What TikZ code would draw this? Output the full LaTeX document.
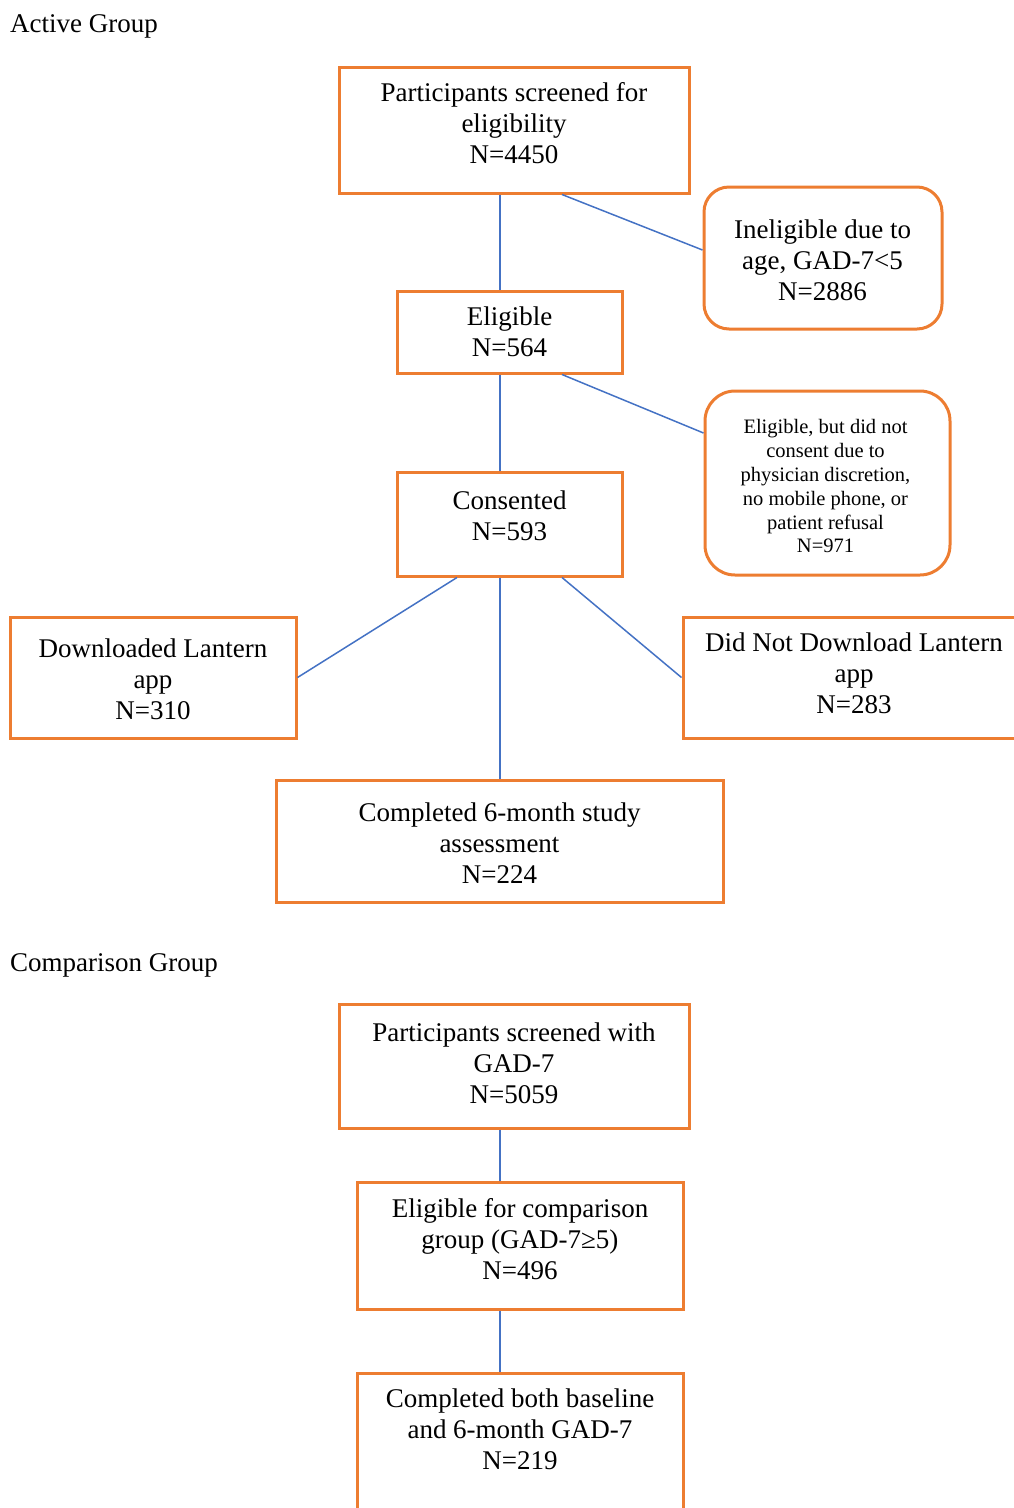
\documentclass[tikz,border=0pt]{standalone}
\usepackage{fontspec}
\setmainfont{Liberation Serif}
\definecolor{boxorange}{HTML}{ED7D31}
\definecolor{linkblue}{HTML}{4472C4}
\begin{document}
\begin{tikzpicture}[x=1pt,y=-1pt,
  frame/.style={draw=boxorange, line width=3pt, inner sep=0pt, rectangle},
  rframe/.style={frame, rounded corners=#1},
  lbl/.style={align=center, inner sep=0pt, font=\fontsize{27}{31}\selectfont},
  smalllbl/.style={align=center, inner sep=0pt, font=\fontsize{20.5}{23.8}\selectfont},
  grouptitle/.style={anchor=base west, inner sep=0pt, font=\fontsize{27}{31}\selectfont},
  link/.style={draw=linkblue, line width=1.5pt}]
\useasboundingbox (0,0) rectangle (1014,1508);
\clip (0,0) rectangle (1014,1508);

% titles
\node[grouptitle] (t1) at (10,32.5) {Active Group};
\node[grouptitle] (t2) at (10,971) {Comparison Group};

% boxes (active group)
\node[frame, minimum width=350, minimum height=126] (p1) at (514,130) {};
\node[lbl] (p1t) at (514,123.5) {Participants screened for\\eligibility\\N=4450};

\node[rframe=25pt, minimum width=238, minimum height=142] (ie) at (823,258) {};
\node[lbl] (iet) at (822.5,260) {Ineligible due to\\age, GAD-7<5\\N=2886};

\node[frame, minimum width=225, minimum height=82] (el) at (509.5,332) {};
\node[lbl] (elt) at (509.5,332) {Eligible\\N=564};

\node[rframe=30pt, minimum width=245, minimum height=184] (eb) at (827.5,483) {};
\node[smalllbl] (ebt) at (825.5,486.3) {Eligible, but did not\\consent due to\\physician discretion,\\no mobile phone, or\\patient refusal\\N=971};

\node[frame, minimum width=225, minimum height=104] (co) at (509.5,524) {};
\node[lbl] (cot) at (509.5,516) {Consented\\N=593};

\node[frame, minimum width=286, minimum height=121] (dl) at (153,677.5) {};
\node[lbl] (dlt) at (153,679.7) {Downloaded Lantern\\app\\N=310};

\node[frame, minimum width=347, minimum height=121] (dn) at (856.5,677.5) {};
\node[lbl] (dnt) at (854,673.7) {Did Not Download Lantern\\app\\N=283};

\node[frame, minimum width=447, minimum height=122] (c6) at (499.5,841) {};
\node[lbl] (c6t) at (499.5,843) {Completed 6-month study\\assessment\\N=224};

% boxes (comparison group)
\node[frame, minimum width=350, minimum height=124] (s2) at (514,1066) {};
\node[lbl] (s2t) at (514,1063) {Participants screened with\\GAD-7\\N=5059};

\node[frame, minimum width=326, minimum height=127] (ec) at (520,1245.5) {};
\node[lbl] (ect) at (520,1239.5) {Eligible for comparison\\group (GAD-7≥5)\\N=496};

\node[frame, minimum width=326, minimum height=160] (cb) at (520,1453) {};
\node[lbl] (cbt) at (520,1429.7) {Completed both baseline\\and 6-month GAD-7\\N=219};

% connectors
\draw[link] ([xshift=-14pt]p1.south) -- ([xshift=-9.5pt]el.north);
\draw[link] ([xshift=48pt]p1.south) -- ([yshift=8pt]ie.west);
\draw[link] ([xshift=-9.5pt]el.south) -- ([xshift=-9.5pt]co.north);
\draw[link] ([xshift=52.5pt]el.south) -- ([yshift=50pt]eb.west);
\draw[link] ([xshift=-52.5pt]co.south) -- (dl.east);
\draw[link] ([xshift=-9.5pt]co.south) -- ([xshift=0.5pt]c6.north);
\draw[link] ([xshift=52.5pt]co.south) -- (dn.west);
\draw[link] ([xshift=-14pt]s2.south) -- ([xshift=-20pt]ec.north);
\draw[link] ([xshift=-20pt]ec.south) -- ([xshift=-20pt]cb.north);
\end{tikzpicture}
\end{document}
